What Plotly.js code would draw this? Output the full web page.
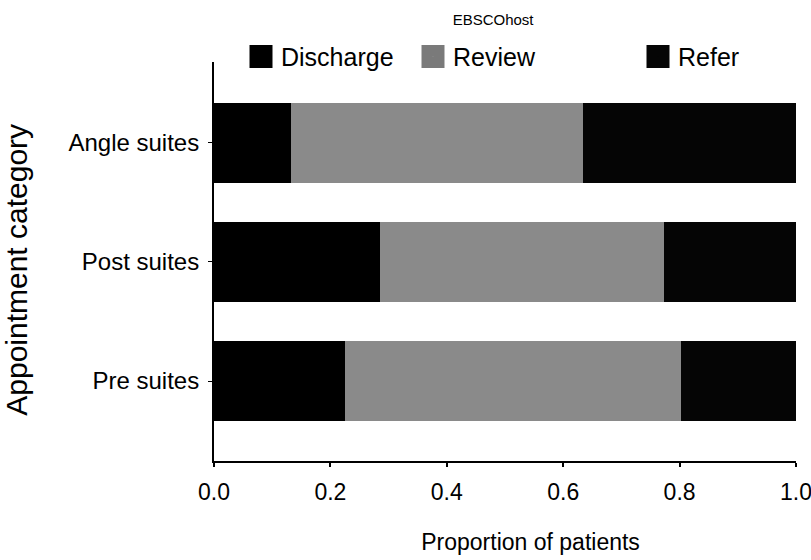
<!DOCTYPE html>
<html>
<head>
<meta charset="utf-8">
<script src="https://cdn.plot.ly/plotly-3.0.1.min.js"></script>
<style>
html,body{margin:0;padding:0;background:#fff;}
#chart{width:811px;height:560px;}
#chart .barlayer path{stroke-width:0 !important;}
#chart .legendpoints path{stroke-width:11px !important;}
</style>
</head>
<body>
<div id="chart"></div>
<script>
// Categories (bottom to top as drawn)
const categories = ['Pre suites', 'Post suites', 'Angle suites'];
// Proportion of patients per outcome
const discharge = [0.225, 0.285, 0.132];
const review    = [0.577, 0.489, 0.502];
const refer     = [0.198, 0.226, 0.366];
const seriesNames = ['Discharge', 'Review', 'Refer'];
const xTickVals = [0, 0.2, 0.4, 0.6, 0.8, 1.0];
const xTickText = ['0.0', '0.2', '0.4', '0.6', '0.8', '1.0'];

const FONT = 'Liberation Sans, Arial, Helvetica, sans-serif';
const colors = ['#000000', '#8a8a8a', '#050505'];
const lineColors = ['#000000', '#7a7a7a', '#050505'];
const values = [discharge, review, refer];
const legendIds = ['legend', 'legend2', 'legend3'];

const traces = seriesNames.map((name, i) => ({
  type: 'bar',
  orientation: 'h',
  name: name,
  y: categories,
  x: values[i],
  legend: legendIds[i],
  marker: {color: colors[i], line: {color: lineColors[i], width: 1}},
  hoverinfo: 'x+y+name'
}));

const legendBase = {
  orientation: 'h',
  font: {family: FONT, size: 25, color: '#000'},
  bgcolor: 'rgba(0,0,0,0)',
  borderwidth: 0,
  yanchor: 'middle',
  y: 1.013,
  xanchor: 'left'
};

const ZW = '\u200B';
const NB = '\u00a0';

const layout = {
  width: 811,
  height: 560,
  margin: {l: 214, r: 15, t: 62, b: 99, pad: 0},
  paper_bgcolor: '#fff',
  plot_bgcolor: '#fff',
  font: {family: FONT, color: '#000'},
  barmode: 'stack',
  bargap: 0.33,
  title: {
    text: 'EBSCOhost',
    font: {family: FONT, size: 15, color: '#000'},
    x: 0.608, xanchor: 'center', xref: 'container',
    y: 0.964, yanchor: 'middle', yref: 'container'
  },
  xaxis: {
    range: [0, 1],
    tickvals: xTickVals,
    ticktext: xTickText,
    showgrid: false,
    zeroline: false,
    showline: true,
    linecolor: '#000',
    linewidth: 2,
    ticks: 'outside',
    ticklen: 4,
    tickwidth: 2,
    tickcolor: '#000',
    ticklabelstandoff: 5,
    ticklabeloverflow: 'allow',
    tickfont: {family: FONT, size: 23, color: '#000'},
    title: {text: ZW + NB.repeat(8) + 'Proportion of patients', font: {family: FONT, size: 23, color: '#000'}, standoff: 30},
    automargin: false,
    fixedrange: true
  },
  yaxis: {
    type: 'category',
    categoryorder: 'array',
    categoryarray: categories,
    range: [-0.672, 2.68],
    showgrid: false,
    zeroline: false,
    showline: true,
    linecolor: '#000',
    linewidth: 2,
    ticks: 'outside',
    ticklen: 4,
    tickwidth: 1,
    tickcolor: '#000',
    ticklabelstandoff: 4,
    tickfont: {family: FONT, size: 24, color: '#000'},
    title: {text: 'Appointment category' + NB.repeat(2) + ZW, font: {family: FONT, size: 30, color: '#000'}, standoff: 34},
    automargin: false,
    fixedrange: true
  },
  legend: Object.assign({}, legendBase, {x: (241 - 214) / 582}),
  legend2: Object.assign({}, legendBase, {x: (413 - 214) / 582}),
  legend3: Object.assign({}, legendBase, {x: (638 - 214) / 582}),
  showlegend: true
};

Plotly.newPlot('chart', traces, layout, {displayModeBar: false, staticPlot: true});
</script>
</body>
</html>
